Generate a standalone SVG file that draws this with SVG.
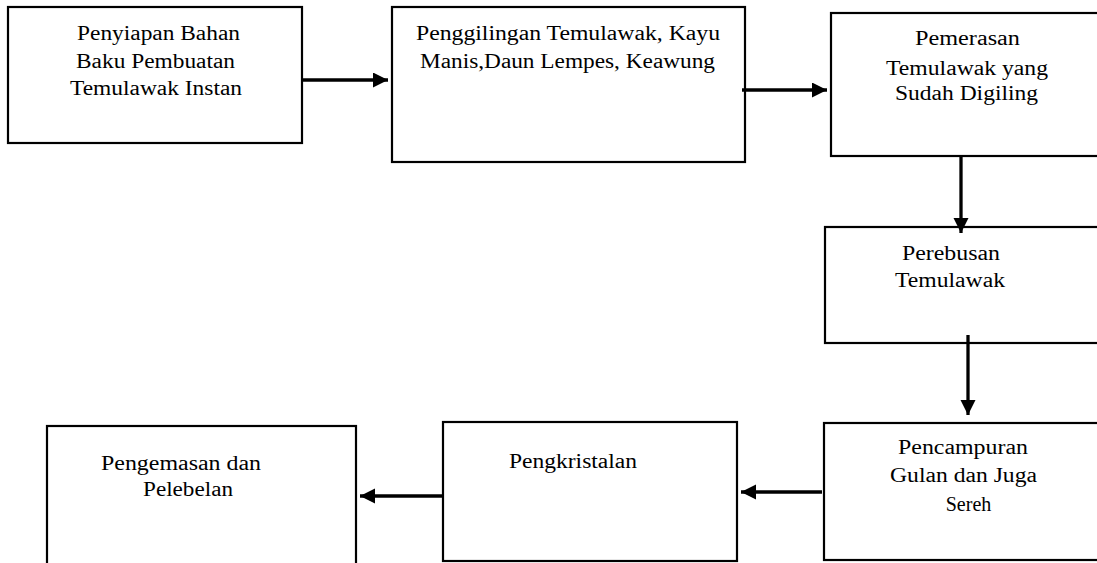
<svg xmlns="http://www.w3.org/2000/svg" width="1097" height="563" viewBox="0 0 1097 563">
<style>
.box{fill:#fff;stroke:#000;stroke-width:2.2}
.t{font-family:"Liberation Serif","Times New Roman",serif;font-size:20px;fill:#000}
.c{stroke:#000;stroke-width:3.3;fill:none}
</style>
<defs>
<marker id="ah" markerUnits="userSpaceOnUse" markerWidth="16" markerHeight="16" refX="15" refY="7.5" orient="auto">
<path d="M0,0 L15,7.5 L0,15 z" fill="#000"/>
</marker>
</defs>
<rect width="1097" height="563" fill="#fff"/>
<g id="n1">
<rect class="box" x="8" y="7" width="294" height="136"/>
<text class="t" x="77" y="40" textLength="163" lengthAdjust="spacingAndGlyphs">Penyiapan Bahan</text>
<text class="t" x="76" y="68" textLength="159" lengthAdjust="spacingAndGlyphs">Baku Pembuatan</text>
<text class="t" x="70" y="95" textLength="172" lengthAdjust="spacingAndGlyphs">Temulawak Instan</text>
</g>
<g id="n2">
<rect class="box" x="392" y="7" width="353" height="155"/>
<text class="t" x="416" y="40" textLength="304" lengthAdjust="spacingAndGlyphs">Penggilingan Temulawak, Kayu</text>
<text class="t" x="420" y="68" textLength="295" lengthAdjust="spacingAndGlyphs">Manis,Daun Lempes, Keawung</text>
</g>
<g id="n3">
<rect class="box" x="831" y="13" width="280" height="143"/>
<text class="t" x="915" y="45" textLength="105" lengthAdjust="spacingAndGlyphs">Pemerasan</text>
<text class="t" x="886" y="75" textLength="162" lengthAdjust="spacingAndGlyphs">Temulawak yang</text>
<text class="t" x="895" y="100" textLength="143" lengthAdjust="spacingAndGlyphs">Sudah Digiling</text>
</g>
<g id="n4">
<rect class="box" x="825" y="227" width="285" height="116"/>
<text class="t" x="902" y="260" textLength="98" lengthAdjust="spacingAndGlyphs">Perebusan</text>
<text class="t" x="895" y="287" textLength="110" lengthAdjust="spacingAndGlyphs">Temulawak</text>
</g>
<g id="n5">
<rect class="box" x="824" y="423" width="286" height="137"/>
<text class="t" x="898" y="454" textLength="130" lengthAdjust="spacingAndGlyphs">Pencampuran</text>
<text class="t" x="890" y="482" textLength="147" lengthAdjust="spacingAndGlyphs">Gulan dan Juga</text>
<text class="t" x="968.5" y="511" text-anchor="middle">Sereh</text>
</g>
<g id="n6">
<rect class="box" x="443" y="422" width="294" height="139"/>
<text class="t" x="509" y="468" textLength="128" lengthAdjust="spacingAndGlyphs">Pengkristalan</text>
</g>
<g id="n7">
<rect class="box" x="47" y="426" width="309" height="150"/>
<text class="t" x="101" y="470" textLength="160" lengthAdjust="spacingAndGlyphs">Pengemasan dan</text>
<text class="t" x="143" y="496" textLength="90" lengthAdjust="spacingAndGlyphs">Pelebelan</text>
</g>
<g id="connectors">
<line class="c" x1="303" y1="80" x2="388" y2="80" marker-end="url(#ah)"/>
<line class="c" x1="742" y1="90" x2="827" y2="90" marker-end="url(#ah)"/>
<line class="c" x1="961" y1="156" x2="961" y2="233" marker-end="url(#ah)"/>
<line class="c" x1="968" y1="335" x2="968" y2="415" marker-end="url(#ah)"/>
<line class="c" x1="822" y1="492" x2="741" y2="492" marker-end="url(#ah)"/>
<line class="c" x1="442" y1="496" x2="360" y2="496" marker-end="url(#ah)"/>
</g>
</svg>
